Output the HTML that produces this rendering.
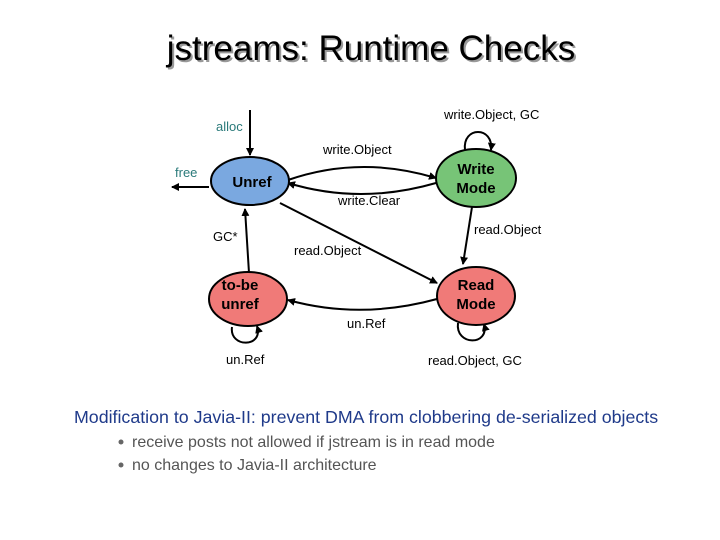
<!DOCTYPE html>
<html><head><meta charset="utf-8"><style>
body{margin:0;background:#fff;width:720px;height:540px;overflow:hidden;font-family:"Liberation Sans",sans-serif}
svg{position:absolute;left:0;top:0}
</style></head><body>
<svg width="720" height="540" viewBox="0 0 720 540" font-family="Liberation Sans, sans-serif">
<defs><marker id="a" markerWidth="8" markerHeight="8" refX="7" refY="4" orient="auto" markerUnits="userSpaceOnUse"><path d="M0,0 L8,4 L0,8 z" fill="#000"/></marker></defs>
<text x="373" y="62" font-size="35" text-anchor="middle" fill="#999">jstreams: Runtime Checks</text>
<text x="371" y="60" font-size="35" text-anchor="middle" fill="#000">jstreams: Runtime Checks</text>
<g stroke="#000" stroke-width="2" fill="none" marker-end="url(#a)">
<path d="M250,110 L250,155"/>
<path d="M209,187 L172,187"/>
<path d="M288,180 Q360,155 436,178"/>
<path d="M436,183 Q360,205 288,183"/>
<path d="M280,203 L437,283"/>
<path d="M472,207 L463,264"/>
<path d="M437,299 Q360,320 288,300"/>
<path d="M249,273 L245,209"/>
<path d="M465,150 C462,126 494,126 491,150"/>
<path d="M458,323 C455,346 490,346 484,324"/>
<path d="M232,327 C229,348 264,348 257,326"/>
</g>
<ellipse cx="250" cy="181" rx="39" ry="24" fill="#7aa8e0" stroke="#000" stroke-width="2"/>
<ellipse cx="476" cy="178" rx="40" ry="29" fill="#77c477" stroke="#000" stroke-width="2"/>
<ellipse cx="476" cy="296" rx="39" ry="29" fill="#f07a78" stroke="#000" stroke-width="2"/>
<ellipse cx="248" cy="299" rx="39" ry="27" fill="#f07a78" stroke="#000" stroke-width="2"/>
<g font-size="15" text-anchor="middle" fill="#000" font-weight="bold">
<text x="252" y="187">Unref</text>
<text x="476" y="174">Write</text><text x="476" y="193">Mode</text>
<text x="476" y="290">Read</text><text x="476" y="309">Mode</text>
<text x="240" y="290">to-be</text><text x="240" y="309">unref</text>
</g>
<g font-size="13" fill="#000">
<text x="216" y="131" fill="#2a7a7a">alloc</text>
<text x="175" y="177" fill="#2a7a7a">free</text>
<text x="323" y="154">write.Object</text>
<text x="338" y="205">write.Clear</text>
<text x="444" y="119">write.Object, GC</text>
<text x="474" y="234">read.Object</text>
<text x="294" y="255">read.Object</text>
<text x="213" y="241">GC*</text>
<text x="347" y="328">un.Ref</text>
<text x="226" y="364">un.Ref</text>
<text x="428" y="365">read.Object, GC</text>
</g>
<text x="74" y="423" font-size="17.8" fill="#1f3a8a">Modification to Javia-II: prevent DMA from clobbering de-serialized objects</text>
<circle cx="121" cy="442" r="2.5" fill="#666"/>
<circle cx="121" cy="465" r="2.5" fill="#666"/>
<text x="132" y="447" font-size="16" fill="#555">receive posts not allowed if jstream is in read mode</text>
<text x="132" y="470" font-size="16" fill="#555">no changes to Javia-II architecture</text>
</svg>
</body></html>
